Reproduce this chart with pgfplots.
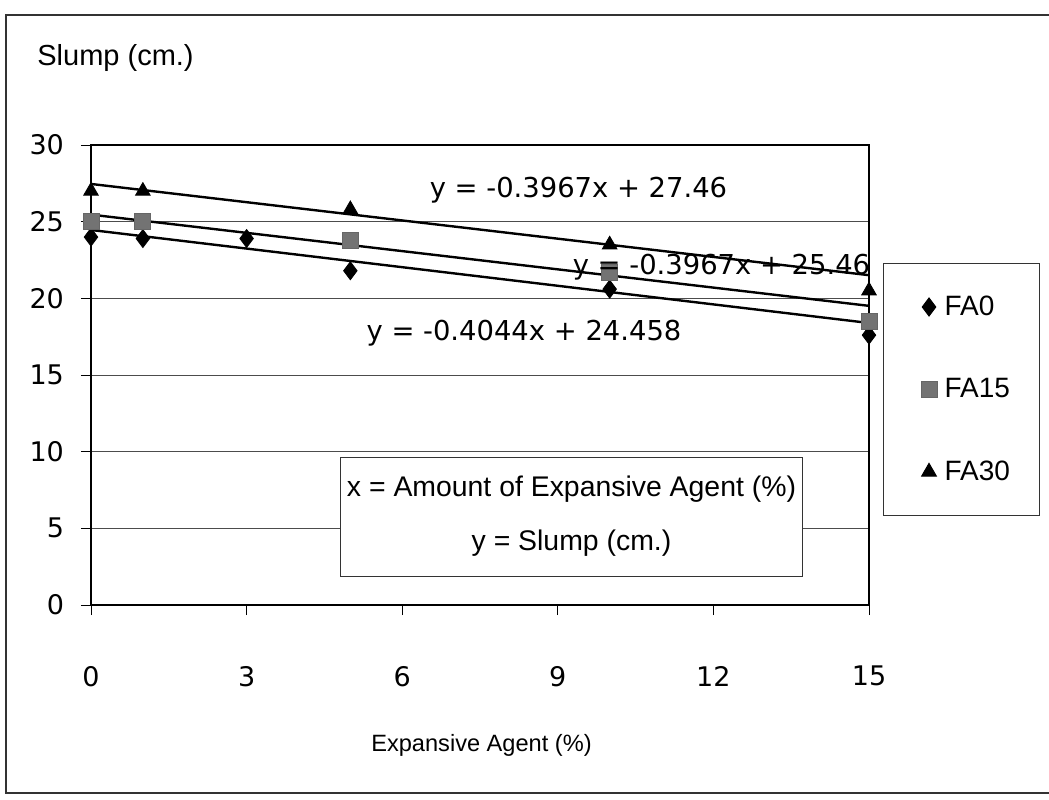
\documentclass[border=0pt]{standalone}
\usepackage{pgfplots}
\pgfplotsset{compat=1.18}
\usepackage{fontspec}
\setmainfont{Liberation Sans}
\newfontfamily\numfont{DejaVu Sans}

\pgfplotsset{
    legmark/.style={legend image code/.code={
        \path (0pt,0pt) (15pt,0pt);
        \draw[##1] plot coordinates {(9.5pt,0pt)};}},
}

\begin{document}
\begin{tikzpicture}
\useasboundingbox (0,0) rectangle (524.5pt,399.5pt);
% outer chart frame (right side runs off the page)
\draw[line width=0.8pt, black!80] (540pt,392pt) -- (3pt,392pt) -- (3pt,3pt) -- (540pt,3pt);

\begin{axis}[
    at={(45.5pt,97pt)}, anchor=south west,
    scale only axis, width=389pt, height=230pt,
    xmin=0, xmax=15, ymin=0, ymax=30,
    xtick={0,3,6,9,12,15},
    ytick={0,5,10,15,20,25,30},
    tick align=outside, major tick length=5pt,
    xtick pos=bottom, ytick pos=left,
    tick style={black, line width=0.5pt},
    ymajorgrids=true,
    grid style={black!70, line width=0.5pt},
    axis line style={black, line width=1pt},
    ticklabel style={font=\numfont\fontsize{13.5}{16}\selectfont},
    /pgf/number format/assume math mode=true,
    xticklabel shift=22pt,
    yticklabel shift=5pt,
    legend style={at={(1.018,0.743)}, anchor=north west, draw=black!80,
        line width=0.5pt, font=\fontsize{14}{16}\selectfont,
        row sep=26pt, inner xsep=13pt, inner ysep=14pt},
    legend cell align=left,
    clip=false,
]
\addplot[only marks, mark=diamond*, mark size=4.5pt, black, legmark]
    coordinates {(0,24)(1,23.9)(3,23.9)(5,21.8)(10,20.6)(15,17.6)};
\addplot[only marks, mark=square*, mark size=4pt, black!55, mark options={draw=black!60}, legmark]
    coordinates {(0,25)(1,25)(5,23.8)(10,21.7)(15,18.5)};
\addplot[only marks, mark=triangle*, mark size=4.2pt, black, legmark]
    coordinates {(0,27)(1,27)(5,25.8)(10,23.5)(15,20.5)};
\legend{FA0, FA15, FA30}

% linear trend lines
\addplot[black, line width=1.2pt, forget plot] coordinates {(0,24.458)(15,18.392)};
\addplot[black, line width=1.2pt, forget plot] coordinates {(0,25.46)(15,19.51)};
\addplot[black, line width=1.2pt, forget plot] coordinates {(0,27.46)(15,21.51)};
\end{axis}

\node[anchor=west, inner sep=0pt, font=\fontsize{14.5}{17}\selectfont] at (18.5pt,370.5pt) {Slump (cm.)};
\node[font=\fontsize{11.8}{14}\selectfont] at (240.75pt,27pt) {Expansive Agent (\%)};

\node[font=\numfont\fontsize{13.7}{17}\selectfont] at (289.25pt,304.5pt) {y = -0.3967x + 27.46};
\node[font=\numfont\fontsize{13.7}{17}\selectfont] at (360.75pt,266pt) {y = -0.3967x + 25.46};
\node[font=\numfont\fontsize{13.7}{17}\selectfont] at (262pt,233pt) {y = -0.4044x + 24.458};

\node[draw=black!80, fill=white, line width=0.5pt, minimum width=230.5pt,
      minimum height=59.5pt, align=center, font=\fontsize{14.2}{27}\selectfont]
      at (285.75pt,141.25pt) {x = Amount of Expansive Agent (\%)\\y = Slump (cm.)};
\end{tikzpicture}
\end{document}
